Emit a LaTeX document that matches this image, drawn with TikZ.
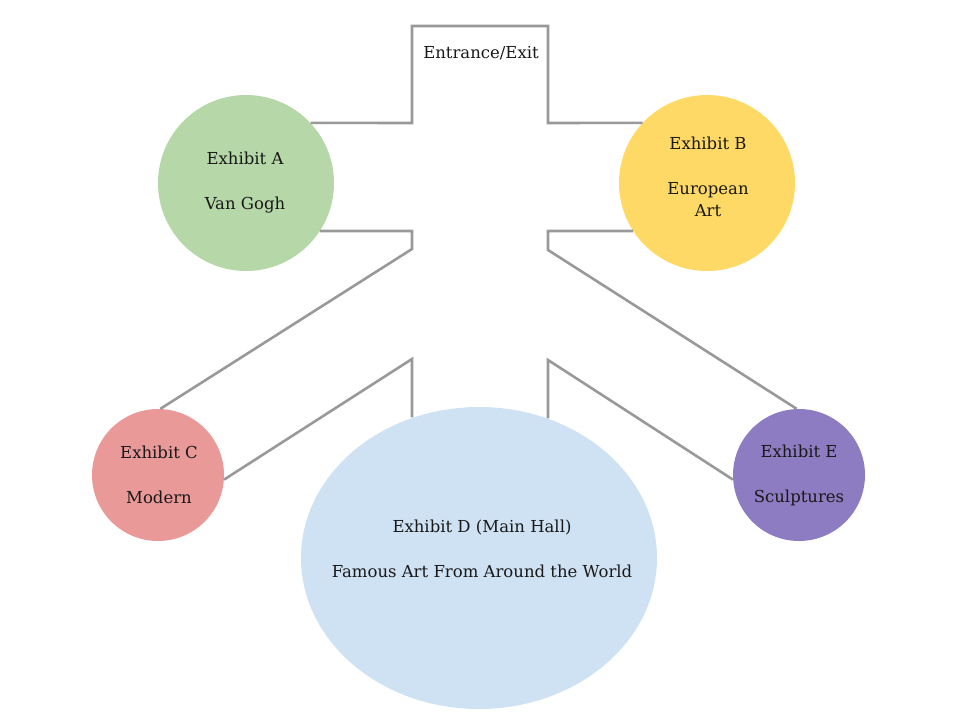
\documentclass[tikz,border=0pt]{standalone}
\usepackage{fontspec}
\setmainfont{DejaVu Serif}
\usetikzlibrary{shapes.geometric}
\definecolor{cA}{HTML}{B6D7A8}
\definecolor{cB}{HTML}{FFD966}
\definecolor{cC}{HTML}{EA9999}
\definecolor{cD}{HTML}{CFE2F3}
\definecolor{cE}{HTML}{8E7CC3}
\definecolor{wallgray}{HTML}{999999}
\tikzset{
  room/.style={circle, inner sep=0pt, draw=none},
  hall/.style={ellipse, inner sep=0pt, draw=none},
  lbl/.style={align=center, inner sep=0pt, text=black!90, font=\fontsize{16.5}{22.5}\selectfont},
  wall/.style={draw=wallgray, line width=2.6pt, line join=miter}
}
\begin{document}
\begin{tikzpicture}[x=1pt,y=-1pt]
\useasboundingbox (0,0) rectangle (960,720);
% rooms
\node[room, fill=cA, minimum size=176pt] (A) at (246,183) {};
\node[room, fill=cB, minimum size=176pt] (B) at (707,183) {};
\node[room, fill=cC, minimum size=132pt] (C) at (158,475) {};
\node[room, fill=cE, minimum size=132pt] (E) at (799,475) {};
\node[hall, fill=cD, minimum width=356pt, minimum height=302pt] (D) at (479,558) {};
% labels
\node[lbl] (At) at (245,183) {Exhibit A\\[22.5pt]Van Gogh};
\node[lbl] (Bt) at (708,177) {Exhibit B\\[22.5pt]European\\Art};
\node[lbl] (Ct) at (159,475) {Exhibit C\\[22.5pt]Modern};
\node[lbl] (Et) at (799,475) {Exhibit E\\[22.5pt]Sculptures};
\node[lbl] (Dt) at (482,549) {Exhibit D (Main Hall)\\[22.5pt]Famous Art From Around the World};
\node[lbl] (X) at (481,53) {Entrance/Exit};
% wall corner points
\coordinate (p1) at (412,123);
\coordinate (p2) at (412,26);
\coordinate (p3) at (548,26);
\coordinate (p4) at (548,123);
\coordinate (q1) at (412,231);
\coordinate (q2) at (412,249);
\coordinate (r1) at (548,231);
\coordinate (r2) at (548,250);
\coordinate (s1) at (412,359);
\coordinate (t1) at (548,360);
% walls
\draw[wall] (A.43) -- (p1) -- (p2) -- (p3) -- (p4) -- (B.137);
\draw[wall] (A.-33) -- (q1) -- (q2) -- (C.88);
\draw[wall] (B.-147) -- (r1) -- (r2) -- (E.92);
\draw[wall] (C.-4) -- (s1) -- (s1 |- D.115.6);
\draw[wall] (E.184) -- (t1) -- (t1 |- D.64.4);
\end{tikzpicture}
\end{document}
